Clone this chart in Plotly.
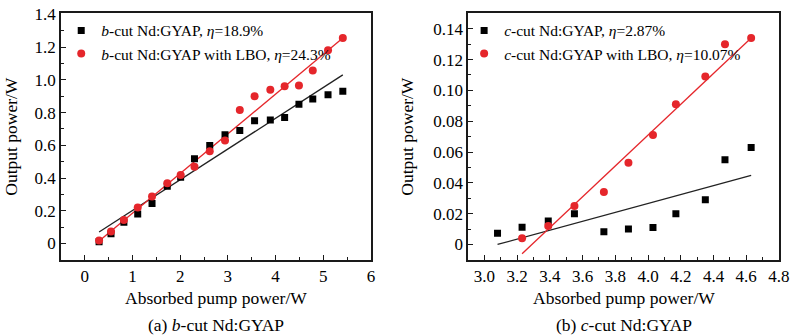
import plotly.graph_objects as go

# ---- Panel (a): b-cut Nd:GYAP ----
a_x = [0.30, 0.55, 0.82, 1.11, 1.41, 1.73, 2.01, 2.30, 2.62, 2.94, 3.25, 3.56, 3.89, 4.19, 4.49, 4.78, 5.10, 5.41]
a_black = [0.01, 0.06, 0.13, 0.18, 0.245, 0.35, 0.405, 0.517, 0.598, 0.665, 0.69, 0.75, 0.755, 0.77, 0.85, 0.883, 0.909, 0.93]
a_red = [0.018, 0.073, 0.143, 0.22, 0.287, 0.368, 0.418, 0.469, 0.564, 0.63, 0.816, 0.90, 0.94, 0.96, 0.966, 1.057, 1.18, 1.255]
a_fit_x = [0.30, 5.41]
a_fit_black = [0.07, 1.03]
a_fit_red = [0.015, 1.255]

# ---- Panel (b): c-cut Nd:GYAP ----
b_x_black = [3.08, 3.23, 3.39, 3.55, 3.73, 3.88, 4.03, 4.17, 4.35, 4.47, 4.63]
b_black = [0.0072, 0.0112, 0.0152, 0.020, 0.0082, 0.010, 0.011, 0.020, 0.029, 0.055, 0.063]
b_x_red = [3.23, 3.39, 3.55, 3.73, 3.88, 4.03, 4.17, 4.35, 4.47, 4.63]
b_red = [0.004, 0.012, 0.025, 0.034, 0.053, 0.071, 0.091, 0.109, 0.130, 0.134]
b_fit_black_x = [3.08, 4.63]
b_fit_black = [0.0, 0.0448]
b_fit_red_x = [3.23, 4.63]
b_fit_red = [-0.006, 0.134]

legend_a = ["<i>b</i>-cut Nd:GYAP, <i>η</i>=18.9%", "<i>b</i>-cut Nd:GYAP with LBO, <i>η</i>=24.3%"]
legend_b = ["<i>c</i>-cut Nd:GYAP, <i>η</i>=2.87%", "<i>c</i>-cut Nd:GYAP with LBO, <i>η</i>=10.07%"]
x_title = "Absorbed pump power/W"
y_title = "Output power/W"
captions = ["(a) <i>b</i>-cut Nd:GYAP", "(b) <i>c</i>-cut Nd:GYAP"]

RED = "#e5262b"
BLACK = "#000000"
FONT = "Times New Roman, Liberation Serif, serif"

fig = go.Figure()

# panel a
fig.add_trace(go.Scatter(x=a_fit_x, y=a_fit_black, mode="lines", line=dict(color="#222", width=1.3),
                         showlegend=False, xaxis="x", yaxis="y"))
fig.add_trace(go.Scatter(x=a_fit_x, y=a_fit_red, mode="lines", line=dict(color=RED, width=1.3),
                         showlegend=False, xaxis="x", yaxis="y"))
fig.add_trace(go.Scatter(x=a_x, y=a_black, mode="markers", name=legend_a[0],
                         marker=dict(symbol="square", size=7, color=BLACK), xaxis="x", yaxis="y", legend="legend"))
fig.add_trace(go.Scatter(x=a_x, y=a_red, mode="markers", name=legend_a[1],
                         marker=dict(symbol="circle", size=8, color=RED), xaxis="x", yaxis="y", legend="legend"))

# panel b
fig.add_trace(go.Scatter(x=b_fit_black_x, y=b_fit_black, mode="lines", line=dict(color="#222", width=1.3),
                         showlegend=False, xaxis="x2", yaxis="y2"))
fig.add_trace(go.Scatter(x=b_fit_red_x, y=b_fit_red, mode="lines", line=dict(color=RED, width=1.3),
                         showlegend=False, xaxis="x2", yaxis="y2"))
fig.add_trace(go.Scatter(x=b_x_black, y=b_black, mode="markers", name=legend_b[0],
                         marker=dict(symbol="square", size=7, color=BLACK), xaxis="x2", yaxis="y2", legend="legend2"))
fig.add_trace(go.Scatter(x=b_x_red, y=b_red, mode="markers", name=legend_b[1],
                         marker=dict(symbol="circle", size=8, color=RED), xaxis="x2", yaxis="y2", legend="legend2"))

W, H = 800, 336
ytop, ybot = 5.5, 258
yd = [(H - ybot) / H, (H - ytop) / H]
xa = [61.7 / W, 375.7 / W]
xb = [474 / W, 789 / W]

axis_common = dict(showline=True, linecolor="#1a1a1a", linewidth=1.5, mirror=True,
                   ticks="inside", ticklen=5, tickwidth=1.2, tickcolor="#1a1a1a",
                   showgrid=False, zeroline=False, ticklabeloverflow="allow",
                   tickfont=dict(family=FONT, size=17, color="black"))

fig.update_layout(
    width=W, height=H, margin=dict(l=0, r=0, t=0, b=0),
    paper_bgcolor="white", plot_bgcolor="white",
    font=dict(family=FONT, color="black"),
    xaxis=dict(domain=xa, range=[-0.5, 6.001], tickvals=[0, 1, 2, 3, 4, 5, 6], ticktext=["0", "1", "2", "3", "4", "5", "6"],
               minor=dict(dtick=0.5, ticks="inside", ticklen=3, tickcolor="#1a1a1a"), anchor="y", **axis_common),
    yaxis=dict(domain=yd, range=[-0.1, 1.406], tickvals=[0, 0.2, 0.4, 0.6, 0.8, 1.0, 1.2, 1.4],
               ticktext=["0", "0.2", "0.4", "0.6", "0.8", "1.0", "1.2", "1.4"],
               minor=dict(dtick=0.1, ticks="inside", ticklen=3, tickcolor="#1a1a1a"), anchor="x", **axis_common),
    xaxis2=dict(domain=xb, range=[2.9, 4.801], tickvals=[3.0, 3.2, 3.4, 3.6, 3.8, 4.0, 4.2, 4.4, 4.6, 4.8],
                ticktext=["3.0", "3.2", "3.4", "3.6", "3.8", "4.0", "4.2", "4.4", "4.6", "4.8"],
                minor=dict(dtick=0.1, ticks="inside", ticklen=3, tickcolor="#1a1a1a"), anchor="y2", **axis_common),
    yaxis2=dict(domain=yd, range=[-0.01, 0.15], tickvals=[0, 0.02, 0.04, 0.06, 0.08, 0.10, 0.12, 0.14],
                ticktext=["0", "0.02", "0.04", "0.06", "0.08", "0.10", "0.12", "0.14"],
                minor=dict(dtick=0.01, ticks="inside", ticklen=3, tickcolor="#1a1a1a"), anchor="x2", **axis_common),
    legend=dict(x=62 / W, y=(H - 6) / H, xanchor="left", yanchor="top", bgcolor="rgba(0,0,0,0)",
                font=dict(family=FONT, size=15.5, color="black"), tracegroupgap=0, itemwidth=30),
    legend2=dict(x=470 / W, y=(H - 6) / H, xanchor="left", yanchor="top", bgcolor="rgba(0,0,0,0)",
                 font=dict(family=FONT, size=15.5, color="black"), tracegroupgap=0, itemwidth=30),
)

annots = [
    dict(text=x_title, x=(xa[0] + xa[1]) / 2, y=(H - 297) / H, font=dict(size=17.5)),
    dict(text=x_title, x=(xb[0] + xb[1]) / 2, y=(H - 297) / H, font=dict(size=17.5)),
    dict(text=captions[0], x=(xa[0] + xa[1]) / 2, y=(H - 325) / H, font=dict(size=17.5)),
    dict(text=captions[1], x=(xb[0] + xb[1]) / 2, y=(H - 325) / H, font=dict(size=17.5)),
    dict(text=y_title, x=11 / W, y=(H - 131) / H, textangle=-90, font=dict(size=17.5)),
    dict(text=y_title, x=412 / W, y=(H - 131) / H, textangle=-90, font=dict(size=17.5)),
]
for a in annots:
    a.update(xref="paper", yref="paper", showarrow=False, xanchor="center", yanchor="middle")
    a["font"].update(family=FONT, color="black")
    fig.add_annotation(**a)

fig.write_html("out.html")
